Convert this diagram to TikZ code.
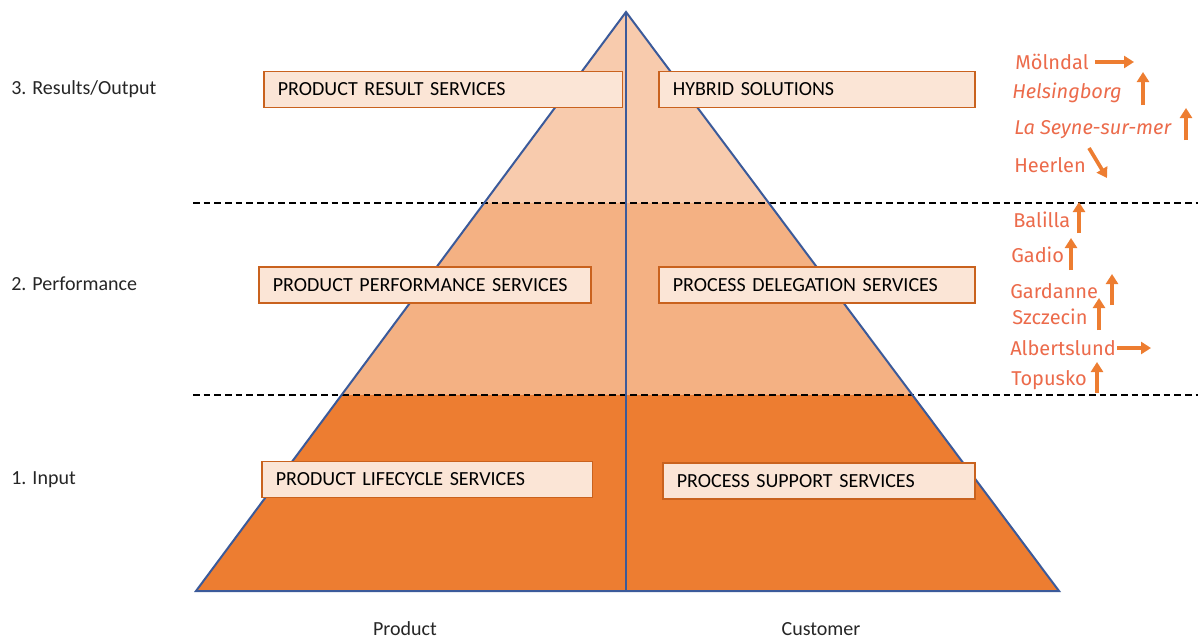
\documentclass[tikz,border=0pt]{standalone}
\usepackage{fontspec}
\setmainfont{Carlito}
\newfontfamily\cityfont{Fira Sans}
\usetikzlibrary{arrows.meta}
\definecolor{bandtop}{HTML}{F8CBAD}
\definecolor{bandmid}{HTML}{F4B183}
\definecolor{bandlow}{HTML}{ED7D31}
\definecolor{boxfill}{HTML}{FBE5D6}
\definecolor{boxline}{HTML}{C9621E}
\definecolor{pyrline}{HTML}{3B5A9A}
\definecolor{citytext}{HTML}{EC6B4B}
\definecolor{trendarrow}{HTML}{ED7D31}

\begin{document}
\begin{tikzpicture}[
    x=0.75pt, y=-0.75pt,
    font=\fontsize{15}{18}\selectfont,
    svcbox/.style={rectangle, draw=boxline, fill=boxfill, line width=1.3pt, minimum height=27pt, inner xsep=10.5pt, align=left, anchor=west},
    level/.style={anchor=west, inner sep=0pt, text=black!85},
    axis/.style={inner sep=0pt, text=black!85},
    city/.style={font=\cityfont\fontsize{15}{18}\selectfont, text=citytext, anchor=west, inner sep=0pt},
    cityit/.style={city, font=\cityfont\itshape\fontsize{15}{18}\selectfont},
    trend/.style={-{Triangle[length=7.5pt,width=9pt]}, line width=2.8pt, draw=trendarrow},
    sep/.style={dash pattern=on 5pt off 3pt, line width=1.1pt}
]

\useasboundingbox (0,0) rectangle (1198,639);
\fill[white] (0,0) rectangle (1198,639);

% pyramid corners
\coordinate (apex) at (626,12);
\coordinate (baseL) at (196,591);
\coordinate (baseR) at (1059,591);
\coordinate (baseM) at (626,591);

% bands
\begin{scope}
  \clip (apex) -- (baseR) -- (baseL) -- cycle;
  \fill[bandtop] (190,0) rectangle (1070,203);
  \fill[bandmid] (190,203) rectangle (1070,395);
  \fill[bandlow] (190,395) rectangle (1070,600);
\end{scope}

% level separators
\coordinate (sepAL) at (193,203);
\coordinate (sepAR) at (1198,203);
\coordinate (sepBL) at (193,395);
\coordinate (sepBR) at (1198,395);
\draw[sep] (sepAL) -- (sepAR);
\draw[sep] (sepBL) -- (sepBR);

\draw[pyrline, line width=1.5pt] (apex) -- (baseM);
\draw[pyrline, line width=1.5pt, line join=miter] (apex) -- (baseR) -- (baseL) -- cycle;

% service boxes
\node[svcbox, text width=248pt] (prs) at (263,89.5) {PRODUCT RESULT SERVICES};
\node[svcbox, text width=216pt] (hyb) at (658,89.5) {HYBRID SOLUTIONS};
\node[svcbox, text width=228pt] (pps) at (258,285) {PRODUCT PERFORMANCE SERVICES};
\node[svcbox, text width=216pt] (pds) at (658,285) {PROCESS DELEGATION SERVICES};
\node[svcbox, text width=227pt] (pls) at (261,479.5) {PRODUCT LIFECYCLE SERVICES};
\node[svcbox, text width=213pt] (pss) at (662,481) {PROCESS SUPPORT SERVICES};

% levels
\node[level] (lvl3) at (11,89) {3. Results/Output};
\node[level] (lvl2) at (11,284) {2. Performance};
\node[level] (lvl1) at (11,480) {1. Input};

\node[axis] (prod) at (405,629) {Product};
\node[axis] (cust) at (821,629) {Customer};

% cities
\node[city] (moln) at (1015,62) {Mölndal};
\node[cityit] (hels) at (1012,93) {Helsingborg};
\node[cityit] (seyne) at (1014,130) {La Seyne-sur-mer};
\node[city] (heer) at (1014,165) {Heerlen};
\node[city] (bali) at (1013,220) {Balilla};
\node[city] (gadi) at (1011,255) {Gadio};
\node[city] (gard) at (1010,291) {Gardanne};
\node[city] (szcz) at (1012,317) {Szczecin};
\node[city] (albe) at (1010,348) {Albertslund};
\node[city] (topu) at (1011,380) {Topusko};

\draw[trend] (1095,62) -- (1134,62);
\draw[trend] (1143,105) -- (1143,72);
\draw[trend] (1186,140) -- (1186,108);
\draw[trend] (1089,148) -- (1107,178);
\draw[trend] (1079,233) -- (1079,202);
\draw[trend] (1071,270) -- (1071,238);
\draw[trend] (1112,305) -- (1112,274);
\draw[trend] (1099,330) -- (1099,298);
\draw[trend] (1117,348) -- (1151,348);
\draw[trend] (1097,393) -- (1097,362);

\end{tikzpicture}
\end{document}
